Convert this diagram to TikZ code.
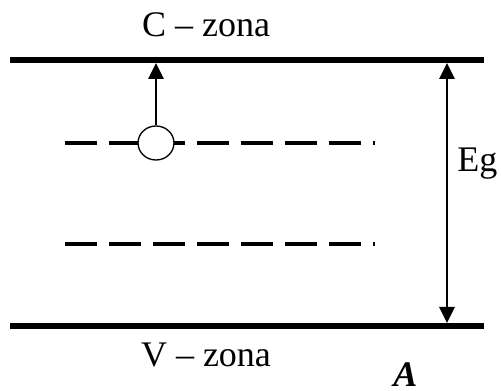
\documentclass[tikz,border=0pt]{standalone}
\usepackage{fontspec}
\setmainfont{Liberation Serif}
\usetikzlibrary{arrows.meta, shapes.geometric}

\begin{document}
\begin{tikzpicture}[
    x=0.75pt, y=-0.75pt,
    >={Triangle[length=12pt, width=11.5pt]},
    band/.style={line width=4.5pt},
    lvl/.style={line width=3pt, dash pattern=on 24pt off 9pt},
    arr/.style={->, line width=1.5pt},
    darr/.style={<->, line width=1.5pt},
    lbl/.style={font=\fontsize{27}{32}\selectfont, inner sep=0pt},
    hole/.style={ellipse, draw, fill=white, line width=1pt,
        minimum width=27pt, minimum height=25.5pt, inner sep=0pt},
]

\useasboundingbox (0,0) rectangle (501,391);

% =============================================
% BANDS: conduction (top) and valence (bottom)
% =============================================

\coordinate (cL) at (10,60);
\coordinate (cR) at (484,60);
\coordinate (vL) at (10,326);
\coordinate (vR) at (484,326);

\draw[band] (cL) -- (cR);
\draw[band] (vL) -- (vR);

\node[lbl, anchor=base] (cz) at (206,37) {C -- zona};
\node[lbl, anchor=base] (vz) at (206,367) {V -- zona};

% =============================================
% LEVELS inside the gap (dashed)
% =============================================

\coordinate (l1L) at (65,143);
\coordinate (l1R) at (375,143);
\coordinate (l2L) at (65,244);
\coordinate (l2R) at (375,244);

\draw[lvl] (l1L) -- (l1R);
\draw[lvl] (l2L) -- (l2R);

% hole on the upper level, lifted to the C band
\node[hole] (hole) at (156,143) {};
\coordinate (hTop) at (156,63);
\draw[arr] (hole.north) -- (hTop);

% =============================================
% GAP WIDTH
% =============================================

\coordinate (gTop) at (447,63);
\coordinate (gBot) at (447,323);
\draw[darr] (gTop) -- (gBot);
\node[lbl, anchor=base west] (eg) at (457,172) {Eg};

\node[lbl, anchor=base west] (tag) at (393,387) {\textbf{\textit{A}}};

\end{tikzpicture}
\end{document}
